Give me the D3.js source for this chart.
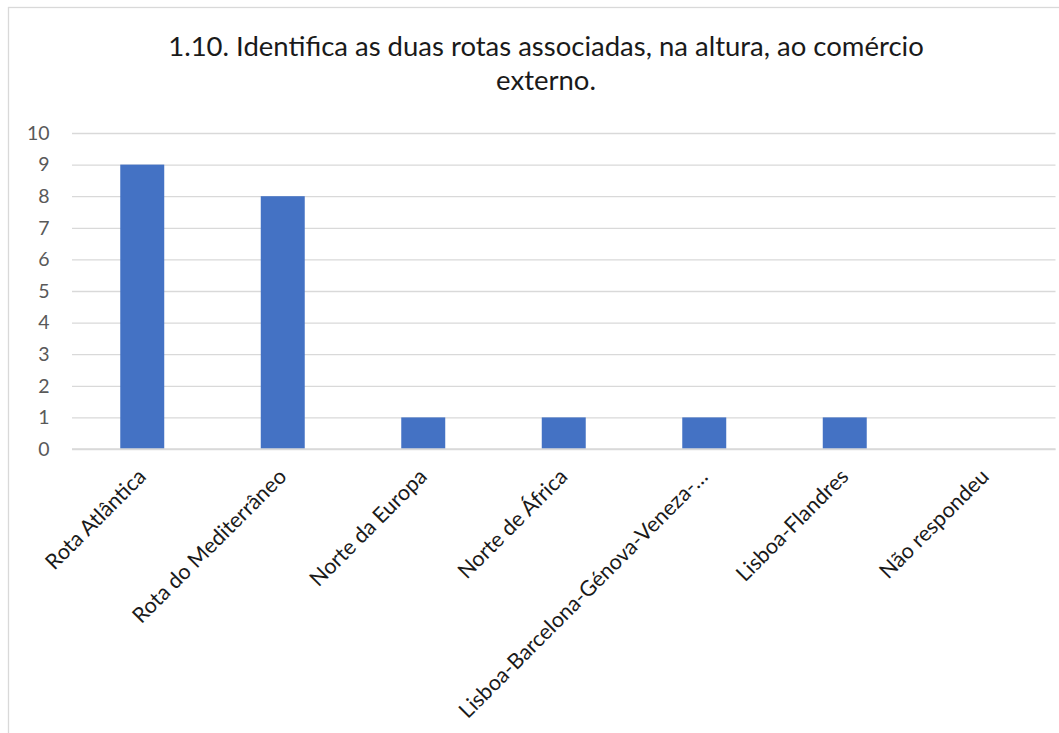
<!DOCTYPE html>
<html>
<head>
<meta charset="utf-8">
<script src="https://cdn.jsdelivr.net/npm/d3@7"></script>
<style>
  html, body { margin: 0; padding: 0; background: #fff; }
  svg { display: block; }
</style>
</head>
<body>
<svg id="chart" width="1059" height="733"></svg>
<script>
const titleLines = ["1.10. Identifica as duas rotas associadas, na altura, ao comércio", "externo."];
const categories = ["Rota Atlântica", "Rota do Mediterrâneo", "Norte da Europa", "Norte de África", "Lisboa-Barcelona-Génova-Veneza-…", "Lisboa-Flandres", "Não respondeu"];
const values = [9, 8, 1, 1, 1, 1, 0];
const yTicks = [0, 1, 2, 3, 4, 5, 6, 7, 8, 9, 10];

const svg = d3.select("#chart");
const W = 1059, H = 733;
const font = "Lato, 'Open Sans', sans-serif";
const plot = { left: 72, right: 1055.5, top: 133, bottom: 449 };

svg.append("rect").attr("x", 0).attr("y", 0).attr("width", W).attr("height", H).attr("fill", "#fff");
// chart frame (extends beyond the visible area on right and bottom)
svg.append("rect")
  .attr("x", 8.5).attr("y", 7.5).attr("width", 1100).attr("height", 800)
  .attr("fill", "none").attr("stroke", "#d9d9d9").attr("stroke-width", 1.3);

// title
const title = svg.append("text")
  .attr("text-anchor", "middle")
  .attr("font-family", font).attr("font-size", 27.5).attr("fill", "#1a1a1a");
titleLines.forEach((t, i) => {
  title.append("tspan").attr("x", 546).attr("y", 56 + i * 34).text(t);
});

const x = d3.scaleBand().domain(categories).range([plot.left, plot.right]).paddingInner(0.687).paddingOuter(0.3435);
const y = d3.scaleLinear().domain([0, 10]).range([plot.bottom, plot.top]);

// gridlines
const yAxis = d3.axisLeft(y).tickValues(yTicks).tickSize(-(plot.right - plot.left)).tickPadding(22.5).tickFormat(d3.format("d"));
const gy = svg.append("g").attr("transform", `translate(${plot.left},0)`).call(yAxis);
gy.select(".domain").remove();
gy.selectAll(".tick line").attr("stroke", "#d9d9d9").attr("stroke-width", 1.3);
gy.selectAll(".tick text").attr("font-family", font).attr("font-size", 19.5).attr("fill", "#595959");

// bars
svg.append("g").selectAll("rect").data(values).join("rect")
  .attr("x", (d, i) => x(categories[i]))
  .attr("y", d => y(d))
  .attr("width", x.bandwidth())
  .attr("height", d => y(0) - y(d))
  .attr("fill", "#4472c4");

// x axis baseline
const xAxis = d3.axisBottom(x).tickSize(0).tickPadding(0);
const gx = svg.append("g").attr("transform", `translate(0,${plot.bottom})`).call(xAxis);
gx.select(".domain").attr("stroke", "#d9d9d9").attr("stroke-width", 1.3)
  .attr("d", `M${plot.left},0H${plot.right}`);
gx.selectAll(".tick text")
  .attr("font-family", font).attr("font-size", 21.5).attr("fill", "#1a1a1a")
  .attr("text-anchor", "end")
  .attr("y", 0).attr("dy", 0)
  .attr("transform", "translate(5,29) rotate(-45)");
</script>
</body>
</html>
